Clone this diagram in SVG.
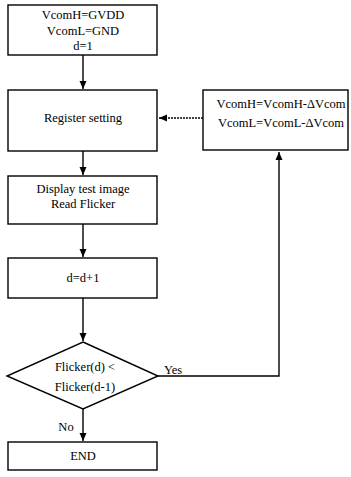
<svg xmlns="http://www.w3.org/2000/svg" width="351" height="477" viewBox="0 0 351 477">
<defs>
<marker id="ah" markerWidth="8" markerHeight="8" refX="8" refY="4" orient="auto" markerUnits="userSpaceOnUse">
<path d="M0,0.5 L8,4 L0,7.5 Z" fill="#000"/>
</marker>
<style>
.b{fill:#fff;stroke:#000;stroke-width:1.4}
.t{font-family:"Liberation Serif","Times New Roman",serif;font-size:12.5px;fill:#000;text-anchor:middle}
.c{fill:none;stroke:#000;stroke-width:1.4}
</style>
</defs>
<rect width="351" height="477" fill="#fff"/>
<g id="connectors">
<line class="c" x1="83" y1="55" x2="83" y2="89" marker-end="url(#ah)"/>
<line class="c" x1="83" y1="151" x2="83" y2="175" marker-end="url(#ah)"/>
<line class="c" x1="83" y1="224" x2="83" y2="257" marker-end="url(#ah)"/>
<line class="c" x1="83" y1="298" x2="83" y2="341" marker-end="url(#ah)"/>
<line class="c" x1="83" y1="409" x2="83" y2="441" marker-end="url(#ah)"/>
<polyline class="c" points="158,376 279,376 279,152" marker-end="url(#ah)"/>
<line class="c" x1="203" y1="118" x2="159" y2="118" stroke-dasharray="2,1" marker-end="url(#ah)"/>
<text class="t" x="173" y="374">Yes</text>
<text class="t" x="66" y="431">No</text>
</g>
<g id="init">
<rect class="b" x="8" y="5" width="149" height="50"/>
<text class="t" x="83" y="19">VcomH=GVDD</text>
<text class="t" x="83" y="35">VcomL=GND</text>
<text class="t" x="83" y="50">d=1</text>
</g>
<g id="register">
<rect class="b" x="8" y="90" width="149" height="61"/>
<text class="t" x="83" y="122">Register setting</text>
</g>
<g id="adjust">
<rect class="b" x="203" y="90" width="145" height="60"/>
<text class="t" x="281" y="108">VcomH=VcomH-ΔVcom</text>
<text class="t" x="281" y="127">VcomL=VcomL-ΔVcom</text>
</g>
<g id="display">
<rect class="b" x="8" y="176" width="149" height="48"/>
<text class="t" x="83" y="193">Display test image</text>
<text class="t" x="83" y="208">Read Flicker</text>
</g>
<g id="increment">
<rect class="b" x="8" y="258" width="149" height="40"/>
<text class="t" x="83" y="282">d=d+1</text>
</g>
<g id="decision">
<polygon class="b" points="83,342 158,376 83,409 7,376"/>
<text class="t" x="85" y="371">Flicker(d) &lt;</text>
<text class="t" x="85" y="391">Flicker(d-1)</text>
</g>
<g id="end">
<rect class="b" x="8" y="442" width="149" height="28"/>
<text class="t" x="83" y="460">END</text>
</g>
</svg>
